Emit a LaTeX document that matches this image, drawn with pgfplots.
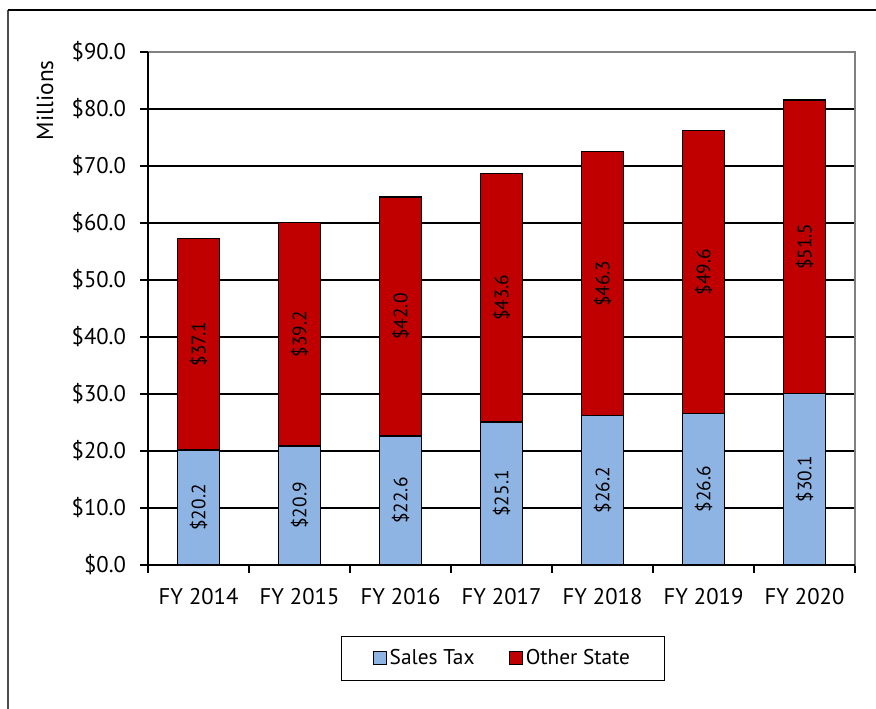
\documentclass[border=0pt]{standalone}
\usepackage{pgfplots}
\pgfplotsset{compat=1.18}
\usepackage{fontspec}
\setmainfont{PT Sans}
\definecolor{salesblue}{RGB}{141,180,227}
\definecolor{otherred}{RGB}{192,0,0}
\pgfplotstableread{
x sales other
0 20.2 37.1
1 20.9 39.2
2 22.6 42.0
3 25.1 43.6
4 26.2 46.3
5 26.6 49.6
6 30.1 51.5
}\datatable
\begin{document}
\begin{tikzpicture}
\useasboundingbox (0,0) rectangle (657pt,531.75pt);
\draw[black!70, line width=0.9pt] (6pt,0) -- (6pt,524.25pt);
\draw[black, line width=0.9pt] (6pt,524.25pt) -- (657pt,524.25pt);
\begin{axis}[
  at={(111pt,108pt)}, anchor=south west,
  scale only axis, width=530.25pt, height=384.75pt,
  ybar stacked, bar width=31.5pt,
  xmin=-0.5, xmax=6.5, ymin=0, ymax=90,
  xtick={-0.5,0.5,...,6.5},
  x tick label as interval,
  xticklabels={FY 2014,FY 2015,FY 2016,FY 2017,FY 2018,FY 2019,FY 2020},
  ytick={0,10,...,80},
  yticklabels={\$0.0,\$10.0,\$20.0,\$30.0,\$40.0,\$50.0,\$60.0,\$70.0,\$80.0},
  extra y ticks={90},
  extra y tick labels={\$90.0},
  extra y tick style={grid=none},
  ymajorgrids,
  major grid style={black, line width=0.8pt},
  axis line style={draw=black!50, line width=1pt},
  tick align=outside,
  xtick pos=bottom, ytick pos=left,
  major tick length=6pt,
  tick style={black, line width=0.8pt},
  tick label style={font=\fontsize{17}{17}\selectfont},
  xticklabel style={yshift=-8pt},
  yticklabel style={xshift=-7pt},
  ylabel={Millions},
  ylabel style={at={(axis description cs:-0.1457,0.906)}, anchor=center, font=\fontsize{17.5}{17.5}\selectfont},
  after end axis/.code={
    \draw[black, line width=1pt] (rel axis cs:0,1) -- (rel axis cs:0,0) -- (rel axis cs:1,0);
  },
  legend style={at={(axis description cs:0.502,-0.182)}, anchor=center,
    legend columns=2, draw=black, line width=0.9pt, inner xsep=24pt, inner ysep=8pt,
    font=\fontsize{16}{16}\selectfont,
    /tikz/every even column/.append style={column sep=24pt}},
  legend image code/.code={\draw[#1, draw=black, line width=0.7pt] (0pt,-4.875pt) rectangle (9.75pt,4.875pt);},
]
\addplot[fill=salesblue, draw=black, line width=1.1pt] table[x=x, y=sales] {\datatable};
\addlegendentry{Sales Tax}
\addplot[fill=otherred, draw=black, line width=1.1pt] table[x=x, y=other] {\datatable};
\addlegendentry{Other State}
\end{axis}
\begin{axis}[
  at={(111pt,108pt)}, anchor=south west,
  scale only axis, width=530.25pt, height=384.75pt,
  xmin=-0.5, xmax=6.5, ymin=0, ymax=90,
  hide axis,
  nodes near coords,
  point meta=explicit symbolic,
  every node near coord/.append style={rotate=90, anchor=center, inner sep=0pt, font=\fontsize{14.5}{14.5}\selectfont, black},
]
\addplot[draw=none, mark=none] coordinates {
  (0,10.1) [\$20.2] (1,10.45) [\$20.9] (2,11.3) [\$22.6] (3,12.55) [\$25.1]
  (4,13.1) [\$26.2] (5,13.3) [\$26.6] (6,15.05) [\$30.1]};
\addplot[draw=none, mark=none] coordinates {
  (0,38.75) [\$37.1] (1,40.5) [\$39.2] (2,43.6) [\$42.0] (3,46.9) [\$43.6]
  (4,49.35) [\$46.3] (5,51.4) [\$49.6] (6,55.85) [\$51.5]};
\end{axis}
\end{tikzpicture}
\end{document}
